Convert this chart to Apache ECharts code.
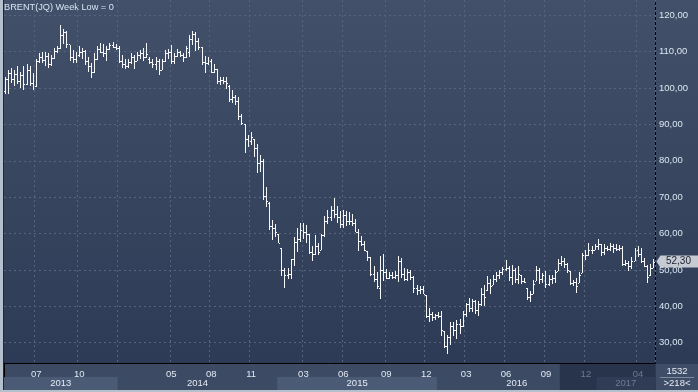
<!DOCTYPE html>
<html>
<head>
<meta charset="utf-8">
<script src="https://cdn.jsdelivr.net/npm/echarts@6/dist/echarts.min.js"></script>
<style>
html,body{margin:0;padding:0;background:#2d3a55;}
#chart{width:698px;height:392px;}
</style>
</head>
<body>
<div id="chart"></div>
<script>
// Weekly OHLC rows: [open, close, low, high]
const ohlc2013 = [
[99.2,102.5,98.3,103],[102.5,104,98.3,105],[104,102.5,101.5,105.5],[102.5,103.8,100.5,105],[103.8,102,101,106],
[102,103.5,100,104.5],[103.5,101,99.5,106],[101,105,100.8,106.5],[105,101.5,100.5,106],[101.5,100.5,99.5,104],
[100.5,107.5,100.3,108],[107.5,108.5,107,109.5],[108.5,107.8,107,110],[107.8,108.7,106,110],[108.7,106.5,105.5,109.5],
[106.5,108.2,106,109],[108.2,110.2,108,111],[110.2,111,109.5,111.5],[111,114.5,110.8,117.3],[114.5,115.3,112,116.3],
[115.3,112,111,115.8],[112,108.5,107.5,111.8],[108.5,108,107,110.5],[108,109.2,107,110],[109.2,109.8,108.5,111.5],
[109.8,110.2,108,111],[110.2,107.5,106.3,110.4],[107.5,106,104.5,108.5],[106,104.3,102.8,107],[104.3,108,104,109.5],
[108,110.8,107.8,111.5],[110.8,110,109.5,112.5],[110,109.5,108.5,112],[109.5,110.8,107.5,111.5],[110.8,111.8,110.5,112.5],
[111.8,111.3,111,112.7],[111.3,110.9,110.5,112]
];
const ohlc2014 = [
[110.9,107.3,106.8,111.5],[107.3,106.5,105.5,109],[106.5,106,105.3,108],[106,107.2,105.5,108],[107.2,108.4,106.5,109.5],
[108.4,107.5,105.3,109],[107.5,109,107.5,110],[109,109.5,108,110.5],[109.5,108.5,107.5,111],[108.5,109.4,108.2,112.3],
[108,107.2,106.5,108.5],[107.2,106.5,105.5,108],[106.5,107.3,105,108.5],[107.3,105,103.7,108],[105,107.5,105,108],
[107.5,109.5,107.2,110.5],[109.5,109.8,108,110.8],[109.8,107.5,106.7,111.8],[107.5,108.8,106.7,109.5],[108.8,110,108.5,110.8],
[110,109.2,108.5,110.3],[109.2,108.5,107.2,109.5],[108.5,111,108.3,111.5],[110,113.6,108.6,114.5],[113.6,114.8,111.8,115.6],
[114.8,112.9,110.2,115.4],[112.9,111.3,110.4,113.7],[111.3,107.2,106.3,111.4],[107.2,106.8,104,108.9],[106.8,107.5,106.3,108.5],
[107.5,104.5,104,108.1],[104.5,105.3,104,106.7],[105.3,101.9,101.2,105.3],[101.9,102.2,100.7,103],[102.2,102,101.2,103],
[102,101.5,99.8,103],[100.5,97,96.2,100.7],[97,97.5,95.8,99.4],[97.5,96.5,95.3,98],[96.5,92.2,91.2,97.5],
[92.2,90.3,89.7,92.9],[90,86,82,90.2],[86,85.5,83.8,87],[85.5,86.5,84.2,87.9],[86,83.5,81,86],
[83.5,79.5,76.5,84.7],[79.5,80,77,81.5],[80,70.2,69.1,80.6],[70.2,69,67.3,72.8],[68.5,62,60.9,68.7],
[62,61.5,58.2,63.6],[61.5,60.5,59,62.7]
];
const ohlc2015 = [
[60,57.5,57.3,60],[56,50.1,48.3,56],[50.1,48.5,45,50.5],[48.5,49,47.5,50.5],[48.8,53,47.5,53.1],
[53,57.8,51,59],[57.8,58.5,55,61.5],[58.5,61,57.8,63],[61,60.5,58.5,62.8],[60.5,60,57.5,62.4],
[60,55,54.5,60],[55,54.5,52.4,56.6],[54.5,56.5,54,59.7],[56.5,55,54.2,57.5],[55.5,59.5,55.5,60],
[59.5,63.5,59,64.8],[63.5,64.5,62.5,66.5],[64.5,66.5,63.5,67.5],[66.5,65.5,64.2,69.8],[65.5,64.5,63,67.5],
[64.5,62.5,61.5,66.3],[62.5,65,61.5,66.5],[65,63.5,62.2,66.3],[63.5,63.5,62.4,66],[63.5,63,62.2,65.4],
[63,60.5,60.3,64],[60.5,58,55.3,61.3],[58,57,56.5,59.4],[57,55.5,55.3,58],[55.3,53.5,52.5,55.3],
[53.5,49,48.4,53.5],[49,47.5,46.6,51.2],[47.5,45.5,44.7,49.3],[45,50,42,53.9],[50,49.5,47,54.4],
[49.5,47.8,47.4,50.2],[47.8,48.5,47.4,49.5],[48.5,48,47.6,49.5],[48,48.5,47.4,49.8],[48.5,52.5,46.6,53.9],
[52.5,49,47.8,53.3],[49,47.5,47,50.6],[47.5,49.5,47,50.2],[49.5,48,47.3,50],[48,45,43.6,48.2],
[45,44.5,43.2,45.9],[44.5,44.8,43.4,45.6],[44.8,43.5,43.3,45.6],[43.2,37.3,36.7,43.2],[37.3,38,35.8,39.5],
[38,37,36,38.3],[37,37.5,36.2,38]
];
const ohlc2016 = [
[37.5,37.3,36.8,38.3],[37.3,33.5,31.9,38.6],[33.2,29,28.4,33.2],[29,31.5,26.9,32.1],[31.5,34.5,29.4,35.8],
[34.5,33.5,31.9,35.6],[33.5,35,31,36.2],[35,34.7,32.4,36.5],[34.7,38,34.4,38.6],[38,40.5,37,41],
[40.5,39.5,38.3,42.4],[39.5,41.5,38.3,42],[41.5,39,37.8,41.8],[39,40.5,37.4,41.5],[40.5,43.5,40,45],
[43.5,42.5,40,45.8],[44.5,46.5,44.1,48.2],[46.5,45.5,43.5,47.5],[45.9,47.5,45.9,48.7],[47.5,48.5,46.8,49.5],
[48.5,49.5,47.5,50],[49.5,50.2,48.5,50.8],[50.2,50.5,49.6,52.8],[50.5,48,46.9,51],[48,50,45.9,51.4],
[50,47.5,46.4,50.5],[47.5,48.8,46,51],[48.6,47,46,48.6],[47,46.8,46.5,47.9],[45,42.5,41.8,45],
[42.5,43.5,41.3,44.1],[43.5,46,43.5,47.2],[46.9,50,46.9,51],[50,47.5,46,50.5],[47.5,48.5,46.4,49.2],
[48.5,46,45,49.6],[46,47.5,45.5,48.7],[47.5,47.8,46,48.7],[47.8,49.5,46.4,50],[49.8,52,49.8,53],
[52,52.5,51,53.8],[52.5,51.5,50.5,53.3],[51.5,50,49.2,51.9],[49.6,46.5,45.9,49.6],[46.5,46.8,45.5,47.3],
[46.8,45.5,43.6,47.8],[46.3,48.5,46.3,49.4],[49.2,54.2,49.2,54.7],[54.2,54,52.8,55.5],[54,55.5,53.8,57.4],
[55.5,55.5,54.5,56.6],[55.6,56.5,55.6,57]
];
const ohlc2017 = [
[56.5,57,55.6,58.4],[57,55,53.8,57],[55,56,54.2,57],[56,55.8,55.2,56.5],[55.8,56.5,55.2,57.4],
[56.5,56,54.7,57],[56,55.8,55.3,57],[55.8,56,55.2,56.8],[56,51.5,51,56.5],[51.5,52,51,52.8],
[52,51,49.6,52.4],[51,52.5,50.3,53.5],[52.5,55.5,52.4,56.1],[55.5,54.5,53.5,56.5],[54.5,52.5,52,56.1],
[52.5,51,50.8,53.3],[51,48,46.4,51.4],[48.5,50.5,48.4,51.5],[50.5,52.3,50.5,53]
];

const firstWeek = '2013-04-22';
const labelMonths = ['2013-07','2013-10','2014-05','2014-08','2014-11','2015-03','2015-06','2015-09','2015-12','2016-03','2016-06','2016-09','2016-12','2017-04'];
const extraGridMonths = ['2014-01'];
const years = ['2013','2014','2015','2016','2017'];
const shadedYears = ['2013','2015'];
const dimFrom = '2016-10-10';
const lastPrice = 52.30;
const yTickMin = 24.4, yTickMax = 124.2;
const titleText = 'BRENT(JQ) Week Low = 0';
const totalBars = '1532';
const visibleBars = '>218<';

const rows = [].concat(ohlc2013, ohlc2014, ohlc2015, ohlc2016, ohlc2017);
const N = rows.length;
const t0 = Date.parse(firstWeek + 'T00:00:00Z');
const dates = rows.map((r, i) => new Date(t0 + i * 7 * 86400000).toISOString().slice(0, 10));
const firstIdx = m => dates.findIndex(d => d.startsWith(m));
const labelIdx = new Set(labelMonths.map(firstIdx));
const splitIdx = new Set(labelMonths.concat(extraGridMonths).map(firstIdx));
const dimIdx = dates.indexOf(dimFrom);

const FONT = '"Liberation Sans", Arial, sans-serif';
const fmt = v => v.toFixed(2).replace('.', ',');

const yearAreas = [];
yearAreas.push([{xAxis: dimIdx, yAxis: 0, itemStyle: {color: '#28344b'}, label: {show: false}}, {xAxis: N, yAxis: 1}]);
years.forEach((y, k) => {
  const s = firstIdx(y);
  const e = k + 1 < years.length ? firstIdx(years[k + 1]) : N;
  const dim = s >= dimIdx;
  let color = shadedYears.includes(y) ? '#4b5a75' : 'rgba(0,0,0,0)';
  if (dim) color = '#303c55';
  yearAreas.push([{name: y, xAxis: s, yAxis: 0, itemStyle: {color: color},
    label: {color: dim ? '#6d7a90' : '#e4ebf4'}}, {xAxis: e, yAxis: 0.48}]);
});

const chart = echarts.init(document.getElementById('chart'), null, {renderer: 'canvas'});
chart.setOption({
  animation: false,
  backgroundColor: {type: 'linear', x: 0, y: 0, x2: 0, y2: 1,
    colorStops: [{offset: 0, color: '#425069'}, {offset: 1, color: '#2c3954'}]},
  title: {text: titleText, left: 4, top: 3, padding: 0,
    textStyle: {color: '#d9e5f3', fontSize: 9.2, fontWeight: 'normal', fontFamily: FONT}},
  grid: [
    {left: 4, right: 43, top: 0, height: 363},
    {left: 4, right: 43, top: 363, height: 27, show: true, backgroundColor: '#3c4a64', borderWidth: 0}
  ],
  xAxis: [
    {type: 'category', gridIndex: 0, data: dates, boundaryGap: true, z: 10,
      axisLine: {show: true, lineStyle: {color: '#000', width: 1}},
      axisTick: {show: false},
      axisLabel: {interval: i => labelIdx.has(i), formatter: v => v.slice(5, 7), margin: 6,
        fontSize: 9.5, fontFamily: FONT,
        color: (v, i) => (dates.indexOf(v) >= dimIdx ? '#6d7a90' : '#e2e9f2')},
      splitLine: {show: true, interval: i => splitIdx.has(i),
        lineStyle: {color: '#56647e', type: [2, 3], width: 1}}},
    {type: 'value', gridIndex: 1, min: 0, max: N, show: false}
  ],
  yAxis: [
    {type: 'value', gridIndex: 0, position: 'right', min: yTickMin, max: yTickMax, splitNumber: 10,
      axisLine: {show: true, lineStyle: {color: '#000'}},
      axisTick: {show: false},
      axisLabel: {showMinLabel: false, showMaxLabel: false, margin: 4, fontSize: 9.5, fontFamily: FONT,
        color: '#dce6f2', formatter: v => fmt(v)},
      splitLine: {show: true, showMinLine: false, showMaxLine: false,
        lineStyle: {color: '#56647e', type: [2, 3], width: 1}}},
    {type: 'value', gridIndex: 1, position: 'right', min: 0, max: 1,
      axisLine: {show: true, lineStyle: {color: '#000'}}, axisTick: {show: false},
      axisLabel: {show: false}, splitLine: {show: false}}
  ],
  series: [
    {
      type: 'custom', xAxisIndex: 0, yAxisIndex: 0, clip: true,
      data: rows.map((r, i) => [i, r[0], r[1], r[2], r[3]]),
      encode: {x: 0, y: [1, 2, 3, 4]},
      renderItem: function (params, api) {
        const i = api.value(0);
        const pH = api.coord([i, api.value(4)]);
        const pL = api.coord([i, api.value(3)]);
        const pO = api.coord([i, api.value(1)]);
        const pC = api.coord([i, api.value(2)]);
        const x = Math.floor(pH[0]);
        const yh = Math.round(pH[1]), yl = Math.round(pL[1]);
        const st = {fill: '#f7f7f7'};
        return {type: 'group', children: [
          {type: 'rect', shape: {x: x, y: yh, width: 1, height: Math.max(1, yl - yh)}, style: st},
          {type: 'rect', shape: {x: x - 1, y: Math.round(pO[1]), width: 1, height: 1}, style: st},
          {type: 'rect', shape: {x: x + 1, y: Math.round(pC[1]), width: 1, height: 1}, style: st}
        ]};
      },
      markPoint: {
        symbol: 'path://M0,6 L4,0 L42,0 L42,12 L4,12 Z',
        symbolSize: [42, 12], symbolKeepAspect: false,
        symbolOffset: [24, 0],
        itemStyle: {color: '#c6cbd3'},
        label: {show: true, position: 'inside', offset: [1, 0], color: '#1b2232', fontSize: 10, fontFamily: FONT,
          formatter: () => fmt(lastPrice)},
        data: [{coord: [dates[N - 1], lastPrice]}]
      }
    },
    {
      type: 'line', xAxisIndex: 1, yAxisIndex: 1, data: [], silent: true,
      markArea: {silent: true,
        label: {show: true, position: 'inside', fontSize: 9.5, fontFamily: FONT, color: '#e4ebf4'},
        data: yearAreas}
    }
  ],
  graphic: [
    {type: 'rect', left: 0, top: 0, shape: {width: 3, height: 392}, style: {fill: '#b5c0cd'}, z: 100},
    {type: 'rect', left: 3, top: 0, shape: {width: 1, height: 390}, style: {fill: '#1f2838'}, z: 100},
    {type: 'rect', left: 0, top: 390, shape: {width: 698, height: 2}, style: {fill: '#b5c0cd'}, z: 100},
    {type: 'rect', left: 656, top: 364, shape: {width: 42, height: 26}, style: {fill: '#3f4d67'}, z: 90},
    {type: 'text', x: 677, y: 371, style: {text: totalBars, fill: '#e4ebf4', font: '9.5px ' + FONT,
      textAlign: 'center', textVerticalAlign: 'middle'}, z: 95},
    {type: 'rect', left: 660, top: 377, shape: {width: 34, height: 1}, style: {fill: '#7c8aa2'}, z: 95},
    {type: 'text', x: 677, y: 383.5, style: {text: visibleBars, fill: '#e4ebf4', font: '9.5px ' + FONT,
      textAlign: 'center', textVerticalAlign: 'middle'}, z: 95}
  ]
});
</script>
</body>
</html>
